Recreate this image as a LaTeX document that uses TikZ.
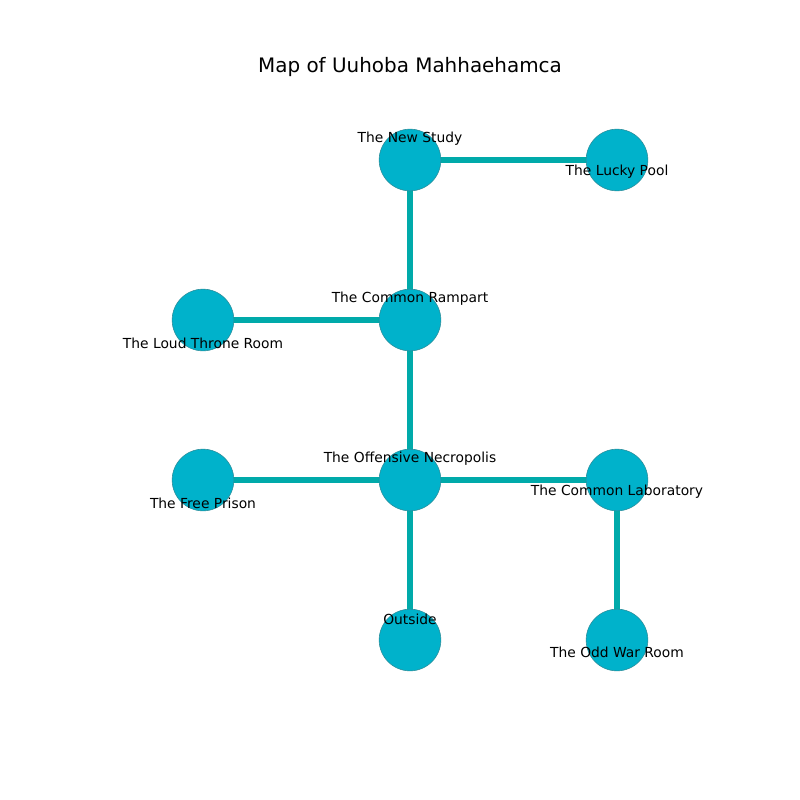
\documentclass[tikz,border=0pt]{standalone}
\usepackage{fontspec}
\setmainfont{DejaVu Sans}
\usetikzlibrary{positioning}
\definecolor{roomfill}{HTML}{00B2CB}
\definecolor{roomedge}{HTML}{2A8C99}
\definecolor{pathcol}{HTML}{00AAAA}
\tikzset{
  room/.style={draw=roomedge, line width=0.4pt, circle, fill=roomfill, minimum size=44.6pt, inner sep=0pt},
  roomname/.style={inner sep=0pt, font=\fontsize{10}{12}\selectfont, text=black},
  passage/.style={draw=pathcol, line width=3.7pt}
}
\begin{document}
\begin{tikzpicture}[x=0.254mm, y=-0.254mm]
      \useasboundingbox (0,0) rectangle (800,800);
      \node[inner sep=0pt, font=\fontsize{14.4}{17}\selectfont] (title) at (410,67) {Map of Uuhoba Mahhaehamca};

      % rooms
      \coordinate (newstudy) at (410,160);
      \coordinate (luckypool) at (617,160);
      \coordinate (rampart) at (410,320);
      \coordinate (throne) at (203,320);
      \coordinate (necropolis) at (410,480);
      \coordinate (prison) at (203,480);
      \coordinate (laboratory) at (617,480);
      \coordinate (outside) at (410,640);
      \coordinate (warroom) at (617,640);

      \draw[passage] (newstudy) -- (luckypool);
      \draw[passage] (newstudy) -- (rampart);
      \draw[passage] (rampart) -- (throne);
      \draw[passage] (rampart) -- (necropolis);
      \draw[passage] (necropolis) -- (prison);
      \draw[passage] (necropolis) -- (laboratory);
      \draw[passage] (necropolis) -- (outside);
      \draw[passage] (laboratory) -- (warroom);

      \foreach \r in {newstudy,luckypool,rampart,throne,necropolis,prison,laboratory,outside,warroom}
        \node[room] (\r-c) at (\r) {};

      % names
      \node[roomname] (newstudy-l) at (410,139) {The New Study};
      \node[roomname] (luckypool-l) at (617,172) {The Lucky Pool};
      \node[roomname] (rampart-l) at (410,299) {The Common Rampart};
      \node[roomname] (throne-l) at (203,343) {The Loud Throne Room};
      \node[roomname] (necropolis-l) at (410,459) {The Offensive Necropolis};
      \node[roomname] (prison-l) at (203,503) {The Free Prison};
      \node[roomname] (laboratory-l) at (617,492) {The Common Laboratory};
      \node[roomname] (outside-l) at (410,619) {Outside};
      \node[roomname] (warroom-l) at (617,652) {The Odd War Room};
\end{tikzpicture}
\end{document}
